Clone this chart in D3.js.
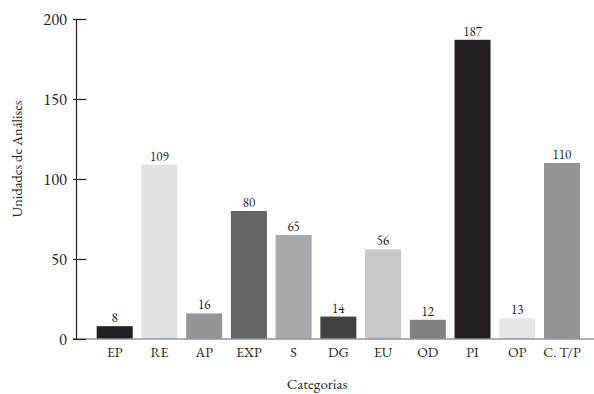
<!DOCTYPE html>
<html>
<head>
<meta charset="utf-8">
<script src="https://cdn.jsdelivr.net/npm/d3@7"></script>
<style>
  html, body { margin: 0; padding: 0; background: #fff; }
  svg { display: block; }
  text { font-family: "EB Garamond", "Liberation Serif", "Times New Roman", serif; fill: #231f20; }
</style>
</head>
<body>
<svg id="chart" width="594" height="394"></svg>
<script>
// Categories and counts of analysis units
const categories = ["EP", "RE", "AP", "EXP", "S", "DG", "EU", "OD", "PI", "OP", "C. T/P"];
const values = [8, 109, 16, 80, 65, 14, 56, 12, 187, 13, 110];
const barColors = ["#231f20", "#e1e2e3", "#939598", "#636466", "#a7a9ac", "#414042",
                   "#c7c8ca", "#808285", "#231f20", "#e6e7e8", "#939598"];
const yTicks = [0, 50, 100, 150, 200];

const svg = d3.select("#chart");

const x = d3.scaleBand()
  .domain(categories)
  .range([92.35, 584.35])
  .paddingInner(0.195)
  .paddingOuter(0.0975);

const y = d3.scaleLinear().domain([0, 200]).range([339, 19]);

// Bars
svg.append("g").selectAll("rect")
  .data(categories)
  .join("rect")
  .attr("x", d => x(d))
  .attr("y", (d, i) => y(values[i]))
  .attr("width", x.bandwidth())
  .attr("height", (d, i) => y(0) - y(values[i]))
  .attr("fill", (d, i) => barColors[i]);

// Baseline
svg.append("line")
  .attr("x1", 73).attr("x2", 594)
  .attr("y1", y(0)).attr("y2", y(0))
  .attr("stroke", "#939598").attr("stroke-width", 1.6);

// Y axis
const yAxis = svg.append("g")
  .attr("transform", "translate(76,0)")
  .call(d3.axisLeft(y).tickValues(yTicks).tickSize(0).tickPadding(9));
yAxis.select(".domain").attr("stroke", "#231f20").attr("stroke-width", 1.2);
yAxis.selectAll(".tick line").remove();
yAxis.selectAll(".tick").append("line")
  .attr("x1", -3).attr("x2", 10)
  .attr("stroke", "#231f20").attr("stroke-width", 1.2);
yAxis.selectAll(".tick text")
  .attr("font-size", 16.5)
  .attr("font-family", null)
  .attr("fill", "#231f20");

// X axis labels
const xAxis = svg.append("g")
  .attr("transform", `translate(0,${y(0)})`)
  .call(d3.axisBottom(x).tickSize(0).tickPadding(8));
xAxis.select(".domain").remove();
xAxis.selectAll(".tick text")
  .attr("font-size", 14)
  .attr("font-family", null)
  .attr("fill", "#231f20");

// Value labels
svg.append("g").selectAll("text")
  .data(categories)
  .join("text")
  .attr("x", d => x(d) + x.bandwidth() / 2)
  .attr("y", (d, i) => y(values[i]) - 4)
  .attr("text-anchor", "middle")
  .attr("font-size", 13)
  .text((d, i) => values[i]);

// Axis titles
svg.append("text")
  .attr("x", 317).attr("y", 389)
  .attr("text-anchor", "middle")
  .attr("font-size", 15)
  .text("Categorias");

svg.append("text")
  .attr("transform", "translate(22,159) rotate(-90)")
  .attr("text-anchor", "middle")
  .attr("font-size", 14.5)
  .text("Unidades de Análises");
</script>
</body>
</html>
